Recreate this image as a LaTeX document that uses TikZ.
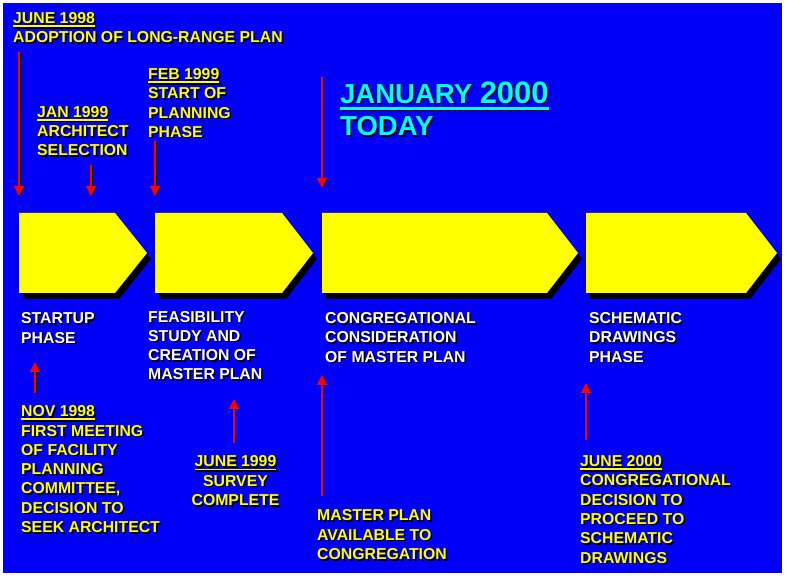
\documentclass[tikz,border=0pt]{standalone}
\usepackage{fontspec}
\setmainfont{Liberation Sans}
\usetikzlibrary{arrows.meta, positioning, calc}

\definecolor{slideblue}{RGB}{0,0,250}
\definecolor{phaseyellow}{RGB}{255,255,0}
\definecolor{todaycyan}{RGB}{0,255,255}
\definecolor{markred}{RGB}{255,0,0}

% underlined date, optional depth of the bar below the baseline
\newcommand{\dateline}[2][4pt]{\setbox0\hbox{#2}\rlap{\rule[-#1]{\wd0}{0.5\dimexpr#1\relax}}\box0}
% text with a black shadow: options, name, position of the last baseline, colour, text
\newcommand{\shadowlabel}[5][]{%
	\node [Label, #1, black, xshift=1.5pt, yshift=-1.5pt] at #3 {#5};
	\node [Label, #1, #4] (#2) at #3 {#5};
}

\begin{document}
\begin{tikzpicture}[
				x=1pt, y=-1pt,
				Label/.style={
					font=\fontsize{15.8}{19.3}\selectfont\bfseries,
					align=left,
					inner sep=0pt,
					anchor=base west
				},
				phase/.style={
					fill=phaseyellow,
					preaction={fill=black, transform canvas={xshift=4pt, yshift=-6pt}}
				}
			]
			\tikzstyle{MarkArrow} = [ %red marker with a dark shadow
				draw=markred,
				line width=1.5pt,
				-{Triangle[width=10pt, length=10pt]},
				preaction={draw=black, transform canvas={xshift=1.2pt, yshift=-0.8pt}}
			]
			
			\useasboundingbox (0,0) rectangle (785,577);
			\fill[slideblue] (3,3) rectangle (782,573);
			
			% the four phases
			\foreach \l/\s/\t [count=\i] in {19/115/147, 155/282/313, 322/547/578, 586/746/777}{
				\fill[phase] (\l,213) -- (\s,213) -- (\t,253) -- (\s,293) -- (\l,293) -- cycle;
			}
			
			% events above the phases
			\shadowlabel{jun98}{(13,43)}{phaseyellow}{\dateline[3.5pt]{JUNE 1998}\\ADOPTION OF LONG-RANGE PLAN}
			\shadowlabel{jan99}{(37,156)}{phaseyellow}{\dateline[3.5pt]{JAN 1999}\\ARCHITECT\\SELECTION}
			\shadowlabel{feb99}{(148,137.5)}{phaseyellow}{\dateline[3.5pt]{FEB 1999}\\START OF\\PLANNING\\PHASE}
			\shadowlabel[font=\fontsize{27.5}{32.7}\selectfont\bfseries]{today}{(340,136)}{todaycyan}{\dateline[6.5pt]{JANUARY {\fontsize{31}{32.7}\selectfont 2000}}\\TODAY}
			
			% phase names
			\shadowlabel{startup}{(21,343.3)}{white}{STARTUP\\PHASE}
			\shadowlabel{feas}{(148,380)}{white}{FEASIBILITY\\STUDY AND\\CREATION OF\\MASTER PLAN}
			\shadowlabel{consid}{(325,362.3)}{white}{CONGREGATIONAL\\CONSIDERATION\\OF MASTER PLAN}
			\shadowlabel{schem}{(589,362.3)}{white}{SCHEMATIC\\DRAWINGS\\PHASE}
			
			% events below the phases
			\shadowlabel{nov98}{(21,532.5)}{phaseyellow}{\dateline[3.5pt]{NOV 1998}\\FIRST MEETING\\OF FACILITY\\PLANNING\\COMMITTEE,\\DECISION TO\\SEEK ARCHITECT}
			\shadowlabel[align=center, anchor=base]{jun99}{(235.5,505.5)}{phaseyellow}{\dateline[3.5pt]{JUNE 1999}\\SURVEY\\COMPLETE}
			\shadowlabel{mplan}{(317,559.5)}{phaseyellow}{MASTER PLAN\\AVAILABLE TO\\CONGREGATION}
			\shadowlabel{jun00}{(580,563)}{phaseyellow}{\dateline[3.5pt]{JUNE 2000}\\CONGREGATIONAL\\DECISION TO\\PROCEED TO\\SCHEMATIC\\DRAWINGS}
			
			% marker arrows
			\foreach \x/\ya/\yb [count=\i] in {19/52/196, 91/165/196, 155/141/196, 322/77/188, 35/393/362, 234/443/399, 322/496/375, 586/440/383}{
				\coordinate (from\i) at (\x,\ya);
				\coordinate (to\i) at (\x,\yb);
				\draw[MarkArrow] (from\i) -- (to\i);
			}
		\end{tikzpicture}
\end{document}
